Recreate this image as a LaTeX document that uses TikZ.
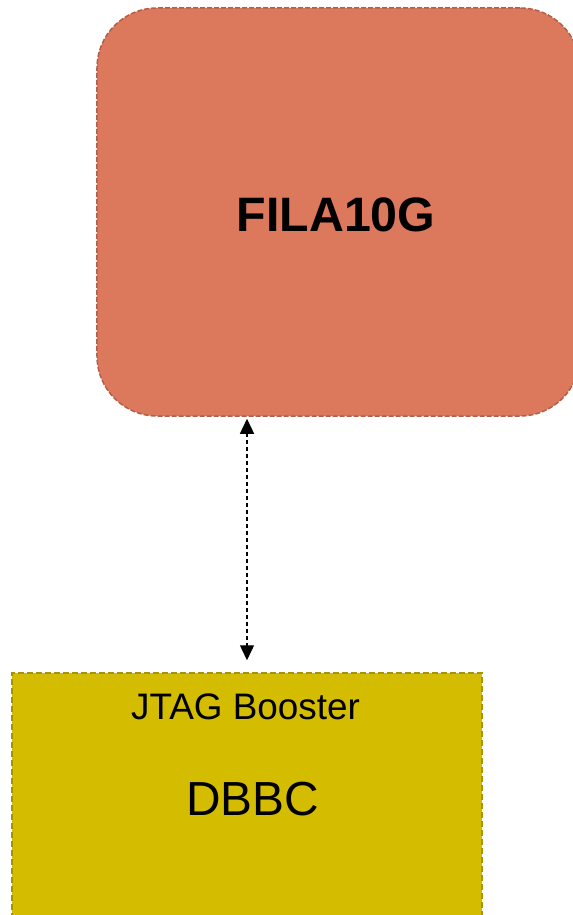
\documentclass[tikz,border=0pt]{standalone}
\usepackage{fontspec}
\setmainfont{Liberation Sans}
\usetikzlibrary{arrows.meta}
\definecolor{filafill}{HTML}{DC785C}
\definecolor{filaedge}{HTML}{B0604A}
\definecolor{dbbcfill}{HTML}{D4BC00}
\definecolor{dbbcedge}{HTML}{A89400}
\tikzset{
  boxa/.style={draw=filaedge, fill=filafill, line width=1.5bp, dash pattern=on 5bp off 2bp, rounded corners=60bp, inner sep=0pt},
  boxb/.style={draw=dbbcedge, fill=dbbcfill, line width=1.5bp, dash pattern=on 6bp off 3bp, inner sep=0pt},
  conn/.style={draw=black, line width=1.4bp, dash pattern=on 4bp off 3bp, {Triangle[length=15bp,width=14bp]}-{Triangle[length=15bp,width=14bp]}},
}
\begin{document}
\begin{tikzpicture}[x=1bp,y=-1bp]
\useasboundingbox (0,0) rectangle (573,915);
\clip (0,0) rectangle (573,915);
\node[boxa, minimum width=483bp, minimum height=408bp] (fila) at (338.5,212) {};
\node[font=\bfseries\fontsize{48.5}{52}\selectfont] (filat) at (336,215) {FILA10G};
\node[boxb, minimum width=470bp, minimum height=260bp] (dbbc) at (247,803) {};
\node[font=\fontsize{37}{40}\selectfont] (jtag) at (245.5,707) {JTAG Booster};
\node[font=\fontsize{48}{52}\selectfont] (dbbct) at (252.5,799) {DBBC};
\draw[conn, shorten <=2bp, shorten >=12bp] (247,0 |- fila.south) -- (247,0 |- dbbc.north);
\end{tikzpicture}
\end{document}
